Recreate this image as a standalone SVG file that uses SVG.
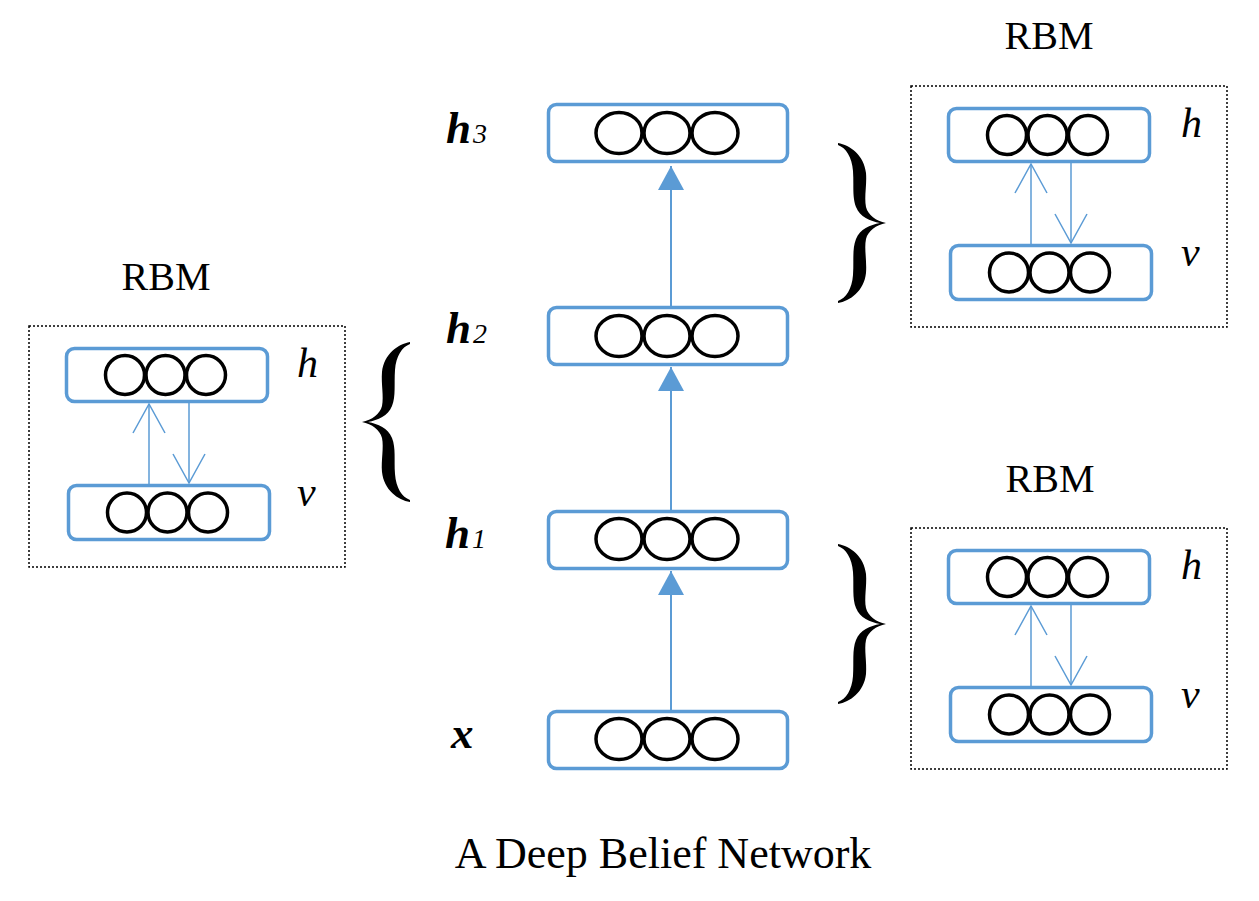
<svg xmlns="http://www.w3.org/2000/svg" width="1259" height="901" viewBox="0 0 1259 901">
<style>
  .layer { fill: #ffffff; stroke: #5B9BD5; stroke-width: 3.5; }
  .unit { fill: none; stroke: #000000; stroke-width: 3.5; }
  .frame { fill: none; stroke: #000000; stroke-width: 1.5; stroke-dasharray: 2 2; }
  .main { stroke: #5B9BD5; stroke-width: 2; fill: none; }
  .thin { stroke: #5B9BD5; stroke-width: 1.5; fill: none; }
  .lbl { font-family: "Liberation Serif", "Times New Roman", serif; font-style: italic; fill: #000; }
  .big { font-weight: bold; font-size: 45px; }
  .sub { font-weight: normal; font-size: 28px; }
  .title { font-family: "Liberation Serif", "Times New Roman", serif; fill: #000; }
  .brace { fill: #000; }
</style>
<defs>
  <marker id="tri" markerUnits="userSpaceOnUse" viewBox="0 0 24 26" refX="24" refY="13" markerWidth="24" markerHeight="26" orient="auto">
    <path d="M0,0 L24,13 L0,26 Z" fill="#5B9BD5"/>
  </marker>
  <marker id="open" markerUnits="userSpaceOnUse" viewBox="0 -17 31 34" refX="30" refY="0" markerWidth="31" markerHeight="34" orient="auto" overflow="visible">
    <path d="M1,-16 L30,0 L1,16" fill="none" stroke="#5B9BD5" stroke-width="1.5"/>
  </marker>
  <path id="brace" d="M48,0 C36,2 22,12 20,30 C19,42 22,54 20,64 C18,72 10,78 0,80 C10,82 18,88 20,96 C22,106 19,118 20,130 C22,148 36,158 48,160 L48,158 C40,155 34,146 33,132 C32,118 34,106 30,96 C26,86 16,82 6,80 C16,78 26,74 30,64 C34,54 32,42 33,28 C34,14 40,5 48,2 Z"/>
</defs>
<rect width="1259" height="901" fill="#ffffff"/>

<!-- Main DBN layers -->
<g id="layer-h3">
  <rect class="layer" x="548.5" y="104.5" width="239" height="57" rx="8"/>
  <ellipse class="unit" cx="619" cy="133" rx="23" ry="20.5"/>
  <ellipse class="unit" cx="667" cy="133" rx="23" ry="20.5"/>
  <ellipse class="unit" cx="715" cy="133" rx="23" ry="20.5"/>
  <text class="lbl big" x="446" y="143">h<tspan class="sub" dx="2">3</tspan></text>
</g>
<g id="layer-h2">
  <rect class="layer" x="548.5" y="307.5" width="239" height="57" rx="8"/>
  <ellipse class="unit" cx="619" cy="336" rx="23" ry="20.5"/>
  <ellipse class="unit" cx="667" cy="336" rx="23" ry="20.5"/>
  <ellipse class="unit" cx="715" cy="336" rx="23" ry="20.5"/>
  <text class="lbl big" x="446" y="343">h<tspan class="sub" dx="2">2</tspan></text>
</g>
<g id="layer-h1">
  <rect class="layer" x="548.5" y="511.5" width="239" height="57" rx="8"/>
  <ellipse class="unit" cx="619" cy="539" rx="23" ry="20.5"/>
  <ellipse class="unit" cx="667" cy="539" rx="23" ry="20.5"/>
  <ellipse class="unit" cx="715" cy="539" rx="23" ry="20.5"/>
  <text class="lbl big" x="445" y="548">h<tspan class="sub" dx="2">1</tspan></text>
</g>
<g id="layer-x">
  <rect class="layer" x="548.5" y="711.5" width="239" height="57" rx="8"/>
  <ellipse class="unit" cx="619" cy="739" rx="23" ry="20.5"/>
  <ellipse class="unit" cx="667" cy="739" rx="23" ry="20.5"/>
  <ellipse class="unit" cx="715" cy="739" rx="23" ry="20.5"/>
  <text class="lbl big" x="451" y="748">x</text>
</g>

<!-- RBM left -->
<g id="rbm-left">
  <text class="title" x="166" y="290" font-size="40" text-anchor="middle">RBM</text>
  <rect class="frame" x="29" y="326" width="316" height="241"/>
  <g id="rbm-left-h">
    <rect class="layer" x="66.5" y="348.5" width="201" height="53" rx="8"/>
    <circle class="unit" cx="125" cy="375" r="19.5"/>
    <circle class="unit" cx="165.5" cy="375" r="19.5"/>
    <circle class="unit" cx="206" cy="375" r="19.5"/>
    <text class="lbl" x="297" y="377" font-size="42">h</text>
  </g>
  <g id="rbm-left-v">
    <rect class="layer" x="68.5" y="485.5" width="201" height="54" rx="8"/>
    <circle class="unit" cx="127" cy="512.5" r="19.5"/>
    <circle class="unit" cx="167.5" cy="512.5" r="19.5"/>
    <circle class="unit" cx="208" cy="512.5" r="19.5"/>
    <text class="lbl" x="297" y="506" font-size="42">v</text>
  </g>
</g>

<!-- RBM top right -->
<g id="rbm-top">
  <text class="title" x="1049" y="49" font-size="40" text-anchor="middle">RBM</text>
  <rect class="frame" x="911" y="86" width="316" height="241"/>
  <g id="rbm-top-h">
    <rect class="layer" x="948.5" y="108.5" width="201" height="53" rx="8"/>
    <circle class="unit" cx="1007" cy="135" r="19.5"/>
    <circle class="unit" cx="1047.5" cy="135" r="19.5"/>
    <circle class="unit" cx="1088" cy="135" r="19.5"/>
    <text class="lbl" x="1181" y="137" font-size="42">h</text>
  </g>
  <g id="rbm-top-v">
    <rect class="layer" x="950.5" y="245.5" width="201" height="54" rx="8"/>
    <circle class="unit" cx="1009" cy="272.5" r="19.5"/>
    <circle class="unit" cx="1049.5" cy="272.5" r="19.5"/>
    <circle class="unit" cx="1090" cy="272.5" r="19.5"/>
    <text class="lbl" x="1181" y="266" font-size="42">v</text>
  </g>
</g>

<!-- RBM bottom right -->
<g id="rbm-bottom">
  <text class="title" x="1050" y="492" font-size="40" text-anchor="middle">RBM</text>
  <rect class="frame" x="911" y="528" width="316" height="241"/>
  <g id="rbm-bottom-h">
    <rect class="layer" x="948.5" y="550.5" width="201" height="53" rx="8"/>
    <circle class="unit" cx="1007" cy="577" r="19.5"/>
    <circle class="unit" cx="1047.5" cy="577" r="19.5"/>
    <circle class="unit" cx="1088" cy="577" r="19.5"/>
    <text class="lbl" x="1181" y="579" font-size="42">h</text>
  </g>
  <g id="rbm-bottom-v">
    <rect class="layer" x="950.5" y="687.5" width="201" height="54" rx="8"/>
    <circle class="unit" cx="1009" cy="714.5" r="19.5"/>
    <circle class="unit" cx="1049.5" cy="714.5" r="19.5"/>
    <circle class="unit" cx="1090" cy="714.5" r="19.5"/>
    <text class="lbl" x="1181" y="708" font-size="42">v</text>
  </g>
</g>

<!-- Braces -->
<g id="braces">
  <use href="#brace" class="brace" transform="translate(362,342)"/>
  <use href="#brace" class="brace" transform="translate(886,143) scale(-1,1)"/>
  <use href="#brace" class="brace" transform="translate(886,544) scale(-1,1)"/>
</g>

<!-- Connectors -->
<g id="connectors">
  <line class="main" x1="671" y1="710" x2="671" y2="571" marker-end="url(#tri)"/>
  <line class="main" x1="671" y1="510" x2="671" y2="367" marker-end="url(#tri)"/>
  <line class="main" x1="671" y1="306" x2="671" y2="166" marker-end="url(#tri)"/>

  <line class="thin" x1="149" y1="484" x2="149" y2="404" marker-end="url(#open)"/>
  <line class="thin" x1="189" y1="403" x2="189" y2="483" marker-end="url(#open)"/>

  <line class="thin" x1="1031" y1="244" x2="1031" y2="164" marker-end="url(#open)"/>
  <line class="thin" x1="1071" y1="163" x2="1071" y2="243" marker-end="url(#open)"/>

  <line class="thin" x1="1031" y1="686" x2="1031" y2="606" marker-end="url(#open)"/>
  <line class="thin" x1="1071" y1="605" x2="1071" y2="685" marker-end="url(#open)"/>
</g>

<text id="caption" class="title" x="663" y="868" font-size="44" text-anchor="middle">A Deep Belief Network</text>
</svg>
